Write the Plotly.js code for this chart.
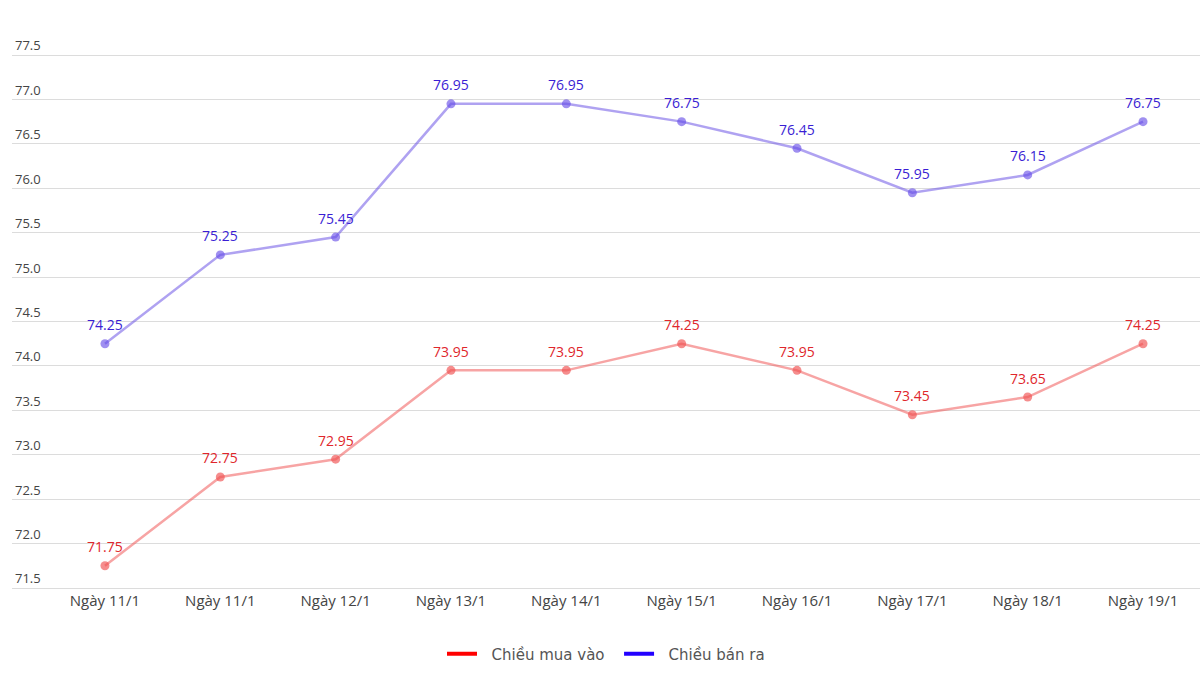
<!DOCTYPE html>
<html><head><meta charset="utf-8">
<script src="https://cdn.plot.ly/plotly-3.0.1.min.js"></script>
<style>html,body{margin:0;padding:0;background:#fff}#chart{width:1201px;height:676px}</style>
</head><body><div id="chart"></div>
<script>
const categories = ["Ngày 11/1","Ngày 11/1","Ngày 12/1","Ngày 13/1","Ngày 14/1","Ngày 15/1","Ngày 16/1","Ngày 17/1","Ngày 18/1","Ngày 19/1"];
const buyValues = [71.75,72.75,72.95,73.95,73.95,74.25,73.95,73.45,73.65,74.25];
const sellValues = [74.25,75.25,75.45,76.95,76.95,76.75,76.45,75.95,76.15,76.75];
const seriesNames = ["Chiều mua vào","Chiều bán ra"];
const yTicks = [71.5,72.0,72.5,73.0,73.5,74.0,74.5,75.0,75.5,76.0,76.5,77.0,77.5];

const idx = categories.map((c,i)=>i);
const font = "'Open Sans', 'Noto Sans', sans-serif";

const traces = [
  {x: idx, y: buyValues, mode: 'lines+markers', showlegend:false,
   line:{color:'rgba(240,90,90,0.55)', width:2.5},
   marker:{color:'rgba(240,80,80,0.65)', size:9}, hoverinfo:'y'},
  {x: idx, y: sellValues, mode: 'lines+markers', showlegend:false,
   line:{color:'rgba(110,85,230,0.55)', width:2.5},
   marker:{color:'rgba(100,75,230,0.62)', size:9}, hoverinfo:'y'},
  {x:[null], y:[null], mode:'lines', name: '\u00a0\u00a0' + seriesNames[0] + '\u00a0\u00a0', line:{color:'#ff0000', width:4}},
  {x:[null], y:[null], mode:'lines', name: '\u00a0\u00a0' + seriesNames[1], line:{color:'#2200ff', width:4}}
];

const annotations = [];
[[buyValues,'#e0262c'],[sellValues,'#3a1ed4']].forEach(([vals,col])=>{
  vals.forEach((v,i)=>annotations.push({x:i, y:v, xref:'x', yref:'y', text:v.toFixed(2),
    showarrow:false, yshift:19, font:{family:font, size:14, color:col}}));
});

const layout = {
  width:1201, height:676,
  margin:{l:12, r:1, t:30, b:86},
  paper_bgcolor:'#fff', plot_bgcolor:'#fff',
  showlegend:true, annotations,
  legend:{orientation:'h', x:0.5, xanchor:'center', y:-0.085, yanchor:'top',
    font:{family:"'DejaVu Sans', sans-serif", size:15, color:'#555'}, itemwidth:30},
  xaxis:{range:[-0.806, 9.494], tickvals: idx, ticktext: categories,
    showgrid:false, zeroline:false, showline:false, ticks:'',
    tickfont:{family:font, size:15, color:'#444'}, fixedrange:true},
  yaxis:{range:[71.4775, 77.7815], tickvals: yTicks, ticktext: yTicks.map(v=>v.toFixed(1)),
    ticklabelposition:'inside top', showgrid:true, gridcolor:'#dcdcdc', gridwidth:1,
    zeroline:false, showline:false, ticks:'',
    tickfont:{family:font, size:13, color:'#444'}, fixedrange:true}
};
Plotly.newPlot('chart', traces, layout, {displayModeBar:false, staticPlot:true});
</script></body></html>
